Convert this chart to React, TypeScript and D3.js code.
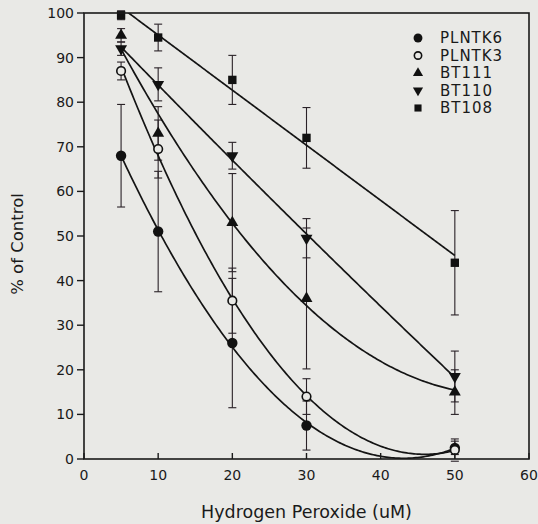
import React from "react";
import * as d3 from "d3";

// Hydrogen peroxide doses (uM) at which viability was measured
const doses = [5, 10, 20, 30, 50];

const seriesNames = ["PLNTK6", "PLNTK3", "BT111", "BT110", "BT108"];

// Mean viability (% of control) per cell line
const plntk6 = [68, 51, 26, 7.5, 2.5];
const plntk3 = [87, 69.5, 35.5, 14, 2];
const bt111 = [95, 73, 53, 36, 15];
const bt110 = [92, 84, 68, 49.5, 18.5];
const bt108 = [99.5, 94.5, 85, 72, 44];

// Error bar half-widths
const plntk6Err = [11.5, 13.5, 14.5, 5.5, 1.5];
const plntk3Err = [2, 6.5, 7.3, 4, 2.5];
const bt111Err = [1.5, 6, 11, 15.8, 5];
const bt110Err = [1.5, 3.7, 3, 4.4, 5.7];
const bt108Err = [1, 3, 5.5, 6.8, 11.7];

// Degree of the regression curve for each line
const fitDegrees = [2, 2, 2, 2, 1];

const xTicks = [0, 10, 20, 30, 40, 50, 60];
const yTicks = [0, 10, 20, 30, 40, 50, 60, 70, 80, 90, 100];

const W = 538;
const H = 524;
const M = { left: 84, right: 529, top: 13, bottom: 459 };
const BG = "#e9e9e6";
const FONT = "'DejaVu Sans', sans-serif";

const values = [plntk6, plntk3, bt111, bt110, bt108];
const errors = [plntk6Err, plntk3Err, bt111Err, bt110Err, bt108Err];
const markers = ["circle", "openCircle", "triUp", "triDown", "square"];

// Least-squares polynomial fit via normal equations
function polyFit(xs: number[], ys: number[], deg: number): number[] {
  const n = deg + 1;
  const A: number[][] = [];
  for (let i = 0; i < n; i++) {
    const row: number[] = [];
    for (let j = 0; j < n; j++) row.push(d3.sum(xs, (x) => Math.pow(x, i + j)));
    row.push(d3.sum(xs, (x, k) => Math.pow(x, i) * ys[k]));
    A.push(row);
  }
  for (let c = 0; c < n; c++) {
    let p = c;
    for (let r = c + 1; r < n; r++) if (Math.abs(A[r][c]) > Math.abs(A[p][c])) p = r;
    [A[c], A[p]] = [A[p], A[c]];
    for (let r = 0; r < n; r++) {
      if (r === c) continue;
      const f = A[r][c] / A[c][c];
      for (let k = c; k <= n; k++) A[r][k] -= f * A[c][k];
    }
  }
  return A.map((row, i) => row[n] / row[i]);
}

function Marker({ kind, x, y, scale = 1 }: { kind: string; x: number; y: number; scale?: number }) {
  if (kind === "circle") return <circle cx={x} cy={y} r={5.2 * scale} fill="#111" />;
  if (kind === "openCircle")
    return <circle cx={x} cy={y} r={4.3 * scale} fill={BG} stroke="#111" strokeWidth={1.6} />;
  const sym = kind === "square" ? d3.symbolSquare : d3.symbolTriangle;
  const size = kind === "square" ? 70 : 62;
  const path = d3.symbol().type(sym).size(size * scale * scale)() || "";
  const rot = kind === "triDown" ? 180 : 0;
  return <path d={path} transform={`translate(${x},${y}) rotate(${rot})`} fill="#111" />;
}

export default function App() {
  const x = d3.scaleLinear().domain([0, 60]).range([M.left, M.right]);
  const y = d3.scaleLinear().domain([0, 100]).range([M.bottom, M.top]);

  const curves = values.map((vals, i) => {
    const coef = polyFit(doses, vals, fitDegrees[i]);
    const xs = d3.range(5, 50.01, 0.25);
    const line = d3
      .line<number>()
      .x((d) => x(d))
      .y((d) => y(coef.reduce((s, c, k) => s + c * Math.pow(d, k), 0)));
    return line(xs) || "";
  });

  return (
    <svg
      width={W}
      height={H}
      style={{ position: "absolute", left: 0, top: 0, display: "block" }}
      fontFamily={FONT}
    >
      <rect width={W} height={H} fill={BG} />
      <defs>
        <clipPath id="plotClip">
          <rect x={M.left} y={M.top} width={M.right - M.left} height={M.bottom - M.top} />
        </clipPath>
      </defs>

      {/* error bars */}
      {values.map((vals, i) =>
        vals.map((v, j) => {
          const e = errors[i][j];
          const cx = x(doses[j]);
          const y1 = y(Math.min(100, v + e));
          const y2 = y(Math.max(0, v - e));
          return (
            <g key={`e${i}-${j}`} stroke="#2a2228" strokeWidth={1.1}>
              <line x1={cx} x2={cx} y1={y1} y2={y2} />
              <line x1={cx - 4} x2={cx + 4} y1={y(v + e)} y2={y(v + e)} />
              <line x1={cx - 4} x2={cx + 4} y1={y(v - e)} y2={y(v - e)} />
            </g>
          );
        })
      )}

      {/* fitted curves */}
      <g clipPath="url(#plotClip)">
        {curves.map((d, i) => (
          <path key={`c${i}`} d={d} fill="none" stroke="#141414" strokeWidth={1.7} />
        ))}
      </g>

      {/* data points */}
      {values.map((vals, i) =>
        vals.map((v, j) => (
          <Marker key={`m${i}-${j}`} kind={markers[i]} x={x(doses[j])} y={y(v)} />
        ))
      )}

      {/* frame */}
      <rect
        x={M.left}
        y={M.top}
        width={M.right - M.left}
        height={M.bottom - M.top}
        fill="none"
        stroke="#1a1a1a"
        strokeWidth={1.6}
      />

      {/* y axis */}
      {yTicks.map((t) => (
        <g key={`yt${t}`}>
          <line x1={M.left - 7} x2={M.left} y1={y(t)} y2={y(t)} stroke="#1a1a1a" strokeWidth={1.4} />
          <text x={M.left - 10} y={y(t)} dy="0.36em" textAnchor="end" fontSize={14} fill="#1a1a1a">
            {t}
          </text>
        </g>
      ))}

      {/* x axis */}
      {xTicks.map((t) => (
        <g key={`xt${t}`}>
          <line x1={x(t)} x2={x(t)} y1={M.bottom} y2={M.bottom - 6} stroke="#1a1a1a" strokeWidth={1.4} />
          <text x={x(t)} y={M.bottom + 21} textAnchor="middle" fontSize={14} fill="#1a1a1a">
            {t}
          </text>
        </g>
      ))}

      <text
        x={(M.left + M.right) / 2}
        y={518}
        textAnchor="middle"
        fontSize={17.5}
        fill="#1a1a1a"
      >
        Hydrogen Peroxide (uM)
      </text>
      <text
        transform={`translate(23,244) rotate(-90)`}
        textAnchor="middle"
        fontSize={16.5}
        fill="#1a1a1a"
      >
        % of Control
      </text>

      {/* legend */}
      {seriesNames.map((name, i) => {
        const ly = 38 + i * 17.5;
        return (
          <g key={`lg${i}`}>
            <Marker kind={markers[i]} x={418} y={ly} scale={0.85} />
            <text
              x={440}
              y={ly}
              dy="0.36em"
              fontSize={15}
              letterSpacing={1}
              fill="#1a1a1a"
            >
              {name}
            </text>
          </g>
        );
      })}
    </svg>
  );
}
